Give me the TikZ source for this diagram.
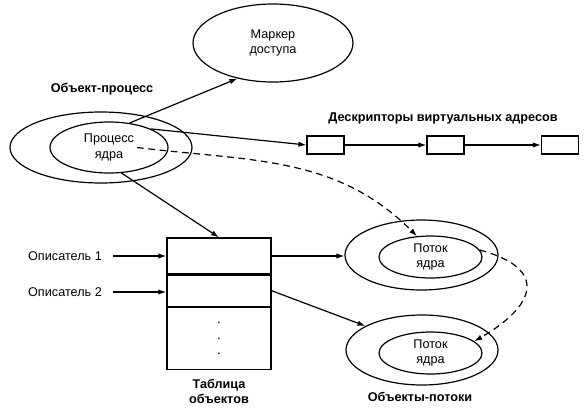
\documentclass[tikz,border=0pt]{standalone}
\usepackage{fontspec}
\setmainfont{Liberation Sans}
\usetikzlibrary{arrows.meta,positioning,shapes.geometric}

\begin{document}
\begin{tikzpicture}[x=0.75pt, y=-0.75pt,
  oval/.style={draw, ellipse, line width=0.9pt, inner sep=0pt, align=center,
    font=\fontsize{9.5}{11.5}\selectfont},
  vabox/.style={draw, rectangle, line width=0.9pt, minimum width=27.75pt,
    minimum height=13.5pt, inner sep=0pt},
  tabrow/.style={draw, rectangle, line width=0.9pt, minimum width=78pt, inner sep=0pt},
  flow/.style={-{Latex[length=6pt,width=4pt]}, line width=0.9pt},
  link/.style={-{Latex[length=6pt,width=4pt]}, line width=0.9pt, dash pattern=on 5pt off 3.5pt},
  title/.style={font=\bfseries\fontsize{9.5}{11.5}\selectfont, align=center},
  plain/.style={font=\fontsize{9.5}{11.5}\selectfont}
]
\useasboundingbox (0,0) rectangle (588,414);
\node[oval, minimum width=120pt, minimum height=58.5pt] (marker) at (273,43) {Маркер\\доступа};
\node[oval, minimum width=136.5pt, minimum height=53.25pt] (procout) at (101,147.5) {};
\node[oval, minimum width=88.5pt, minimum height=38.25pt] (procin) at (109,147.5) {Процесс\\ядра};
\node[title] (proclbl) at (102,89) {Объект-процесс};
\node[vabox] (va1) at (325.5,145) {};
\node[vabox] (va2) at (445.5,145) {};
\node[vabox] (va3) at (560,145) {};
\node[title] (valbl) at (443,118) {Дескрипторы виртуальных адресов};
\node[tabrow, minimum height=27pt] (row1) at (219,256) {};
\node[tabrow, minimum height=23.25pt, below=0pt of row1] (row2) {};
\node[tabrow, minimum height=46.5pt, below=0pt of row2, align=center,
  font=\fontsize{10}{11.5}\selectfont] (row3) {.\\.\\.};
\node[title, below=3pt of row3] (tablbl) {Таблица\\объектов};
\node[plain] (hd1) at (65,256) {Описатель 1};
\node[plain] (hd2) at (65,292) {Описатель 2};
\node[oval, minimum width=114.75pt, minimum height=52.5pt] (thout1) at (421.5,255) {};
\node[oval, minimum width=77.25pt, minimum height=31.5pt] (thin1) at (430.5,257) {Поток\\ядра};
\node[oval, minimum width=114pt, minimum height=52.5pt] (thout2) at (422,350) {};
\node[oval, minimum width=77.25pt, minimum height=31.5pt] (thin2) at (430.5,353) {Поток\\ядра};
\node[title] (thlbl) at (420,397) {Объекты-потоки};
\draw[flow] (procin.50) -- (marker.225);
\draw[flow] (procin.24) -- (va1.west);
\draw[flow] (va1) -- (va2);
\draw[flow] (va2) -- (va3);
\draw[flow] (procin.-64) -- (row1.north);
\draw[link] ([xshift=21pt]procin.center) to[out=-7, in=135] (thin1.123);
\draw[link] (thin1.8) to[out=-15, in=30, looseness=2] (thin2.15);
\draw[flow, shorten <=5pt] (hd1.east) -- (hd1.east -| row1.west);
\draw[flow, shorten <=5pt] (hd2.east) -- (hd2.east -| row2.west);
\draw[flow] (row1.east) -- (row1.east -| thout1.west);
\draw[flow] (row2.east) -- (thout2.157);
\end{tikzpicture}
\end{document}
